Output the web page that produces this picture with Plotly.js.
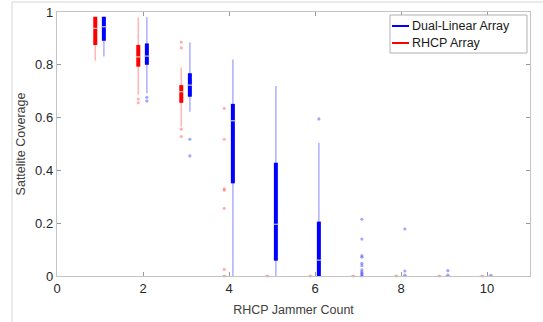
<!DOCTYPE html>
<html>
<head>
<meta charset="utf-8">
<script src="https://cdn.plot.ly/plotly-3.0.1.min.js"></script>
<style>
html,body{margin:0;padding:0;background:#fff;}
#chart{width:543px;height:322px;}
</style>
</head>
<body>
<div id="chart"></div>
<script>
// ---- data ----
const jammerCount = [1, 2, 3, 4, 5, 6, 7, 8, 9, 10];
const xTickVals = [0, 2, 4, 6, 8, 10];
const yTickVals = [0, 0.2, 0.4, 0.6, 0.8, 1];
const yTickText = ['0', '0.2', '0.4', '0.6', '0.8', '1'];

// RHCP Array (red)
const rhcpLo  = [0.816, 0.686, 0.566, 0, 0, 0, 0, 0, 0, 0];
const rhcpQ1  = [0.875, 0.793, 0.656, 0, 0, 0, 0, 0, 0, 0];
const rhcpMed = [0.938, 0.830, 0.698, 0, 0, 0, 0, 0, 0, 0];
const rhcpQ3  = [0.982, 0.875, 0.723, 0, 0, 0, 0, 0, 0, 0];
const rhcpHi  = [0.982, 0.980, 0.790, 0, 0, 0, 0, 0, 0, 0];
const rhcpOut = [
  [],
  [0.670, 0.656],
  [0.886, 0.864, 0.556, 0.528],
  [0.635, 0.518, 0.330, 0.325, 0.256, 0.025, 0.0],
  [0.0], [0.0], [0.0], [0.0], [0.0], [0.0]
];

// Dual-Linear Array (blue)
const dualLo  = [0.831, 0.692, 0.622, 0, 0, 0, 0, 0, 0, 0];
const dualQ1  = [0.891, 0.800, 0.679, 0.351, 0.058, 0, 0, 0, 0, 0];
const dualMed = [0.944, 0.833, 0.723, 0.588, 0.196, 0.060, 0, 0, 0, 0];
const dualQ3  = [0.982, 0.881, 0.768, 0.652, 0.429, 0.206, 0, 0, 0, 0];
const dualHi  = [0.982, 0.980, 0.884, 0.820, 0.720, 0.505, 0, 0, 0, 0];
const dualOut = [
  [],
  [0.677, 0.663],
  [0.518, 0.455],
  [], [],
  [0.595],
  [0.215, 0.140, 0.077, 0.071, 0.048, 0.039, 0.023, 0.016, 0.010, 0.005, 0.0],
  [0.178, 0.019, 0.003],
  [0.020, 0.003],
  [0.002]
];

// ---- build traces ----
function segs(off, lo, hi) {
  const x = [], y = [];
  jammerCount.forEach((c, i) => { x.push(c + off, c + off, null); y.push(lo[i], hi[i], null); });
  return {x, y};
}
function outs(off, arr) {
  const x = [], y = [];
  jammerCount.forEach((c, i) => arr[i].forEach(v => { x.push(c + off); y.push(v); }));
  return {x, y};
}
function series(off, lo, q1, med, q3, hi, out, col, light, dot) {
  const w = segs(off, lo, hi), b = segs(off, q1, q3), o = outs(off, out);
  return [
    {type:'scatter', mode:'lines', x:w.x, y:w.y, line:{color:light, width:1.6}, hoverinfo:'skip', showlegend:false, cliponaxis:false},
    {type:'scatter', mode:'lines', x:b.x, y:b.y, line:{color:col, width:4}, hoverinfo:'skip', showlegend:false},
    {type:'scatter', mode:'markers', x:jammerCount.map(c => c + off), y:med,
     marker:{symbol:'line-ew', size:4, line:{color:'rgba(215,215,215,0.9)', width:1.2}}, hoverinfo:'skip', showlegend:false},
    {type:'scatter', mode:'markers', x:o.x, y:o.y, marker:{symbol:'circle', size:3.2, color:dot, line:{width:0}},
     hoverinfo:'skip', showlegend:false, cliponaxis:false}
  ];
}
const redOff = -0.11, blueOff = 0.09;
const traces = [].concat(
  series(redOff, rhcpLo, rhcpQ1, rhcpMed, rhcpQ3, rhcpHi, rhcpOut, '#ff0000', 'rgba(255,0,0,0.28)', 'rgba(255,60,60,0.4)'),
  series(blueOff, dualLo, dualQ1, dualMed, dualQ3, dualHi, dualOut, '#0000ff', 'rgba(0,0,255,0.3)', 'rgba(40,40,255,0.42)')
);

// ---- layout ----
const L = 57, R = 13, T = 12, B = 46, W = 543, H = 322;
const pw = W - L - R, ph = H - T - B;
const px = v => (v - L) / pw;           // pixel -> paper x
const py = v => (H - B - v) / ph;       // pixel -> paper y
const axisCol = '#c4c4c4';
const font = {family:'Liberation Sans, Arial, sans-serif', size:13, color:'#262626'};

const shapes = [
  // screenshot frame lines
  {type:'line', xref:'paper', yref:'paper', x0:px(12), x1:px(12), y0:py(2), y1:py(322), line:{color:'#d6d6d6', width:1}},
  {type:'line', xref:'paper', yref:'paper', x0:px(12), x1:px(543), y0:py(2), y1:py(2), line:{color:'#d6d6d6', width:1}},
  // legend box
  {type:'rect', xref:'paper', yref:'paper', x0:px(390), x1:px(527), y0:py(53), y1:py(15), fillcolor:'#ffffff', line:{color:'#b0b0b0', width:1}},
  {type:'line', xref:'paper', yref:'paper', x0:px(392), x1:px(409), y0:py(26), y1:py(26), line:{color:'#0000ff', width:2}},
  {type:'line', xref:'paper', yref:'paper', x0:px(392), x1:px(409), y0:py(43), y1:py(43), line:{color:'#ff0000', width:2}}
];
const annotations = [
  {xref:'paper', yref:'paper', x:px(410), y:py(26), text:'Dual-Linear Array', showarrow:false, xanchor:'left', yanchor:'middle', font:{family:font.family, size:12.5, color:'#1a1a1a'}},
  {xref:'paper', yref:'paper', x:px(410), y:py(43), text:'RHCP Array', showarrow:false, xanchor:'left', yanchor:'middle', font:{family:font.family, size:12.5, color:'#1a1a1a'}}
];

const layout = {
  width: W, height: H,
  margin: {l:L, r:R, t:T, b:B, pad:0},
  paper_bgcolor:'#ffffff', plot_bgcolor:'#ffffff',
  font: font,
  showlegend:false,
  xaxis: {
    range:[0, 11], tickvals:xTickVals, ticktext:xTickVals.map(String),
    ticks:'inside', ticklen:4, tickcolor:'#9a9a9a', showline:true, linecolor:axisCol, linewidth:1.2,
    mirror:'ticks', showgrid:false, zeroline:false, tickfont:{family:font.family, size:13, color:'#262626'},
    title:{text:'RHCP Jammer Count', font:{family:font.family, size:12.5, color:'#404040'}, standoff:10}
  },
  yaxis: {
    range:[0, 1], tickvals:yTickVals, ticktext:yTickText,
    ticks:'inside', ticklen:4, tickcolor:'#9a9a9a', showline:true, linecolor:axisCol, linewidth:1.2,
    mirror:'ticks', showgrid:false, zeroline:false, tickfont:{family:font.family, size:13, color:'#262626'},
    title:{text:'Sattelite Coverage', font:{family:font.family, size:12.5, color:'#404040'}, standoff:6}
  },
  shapes: shapes,
  annotations: annotations
};

Plotly.newPlot('chart', traces, layout, {displayModeBar:false, staticPlot:true});
</script>
</body>
</html>
